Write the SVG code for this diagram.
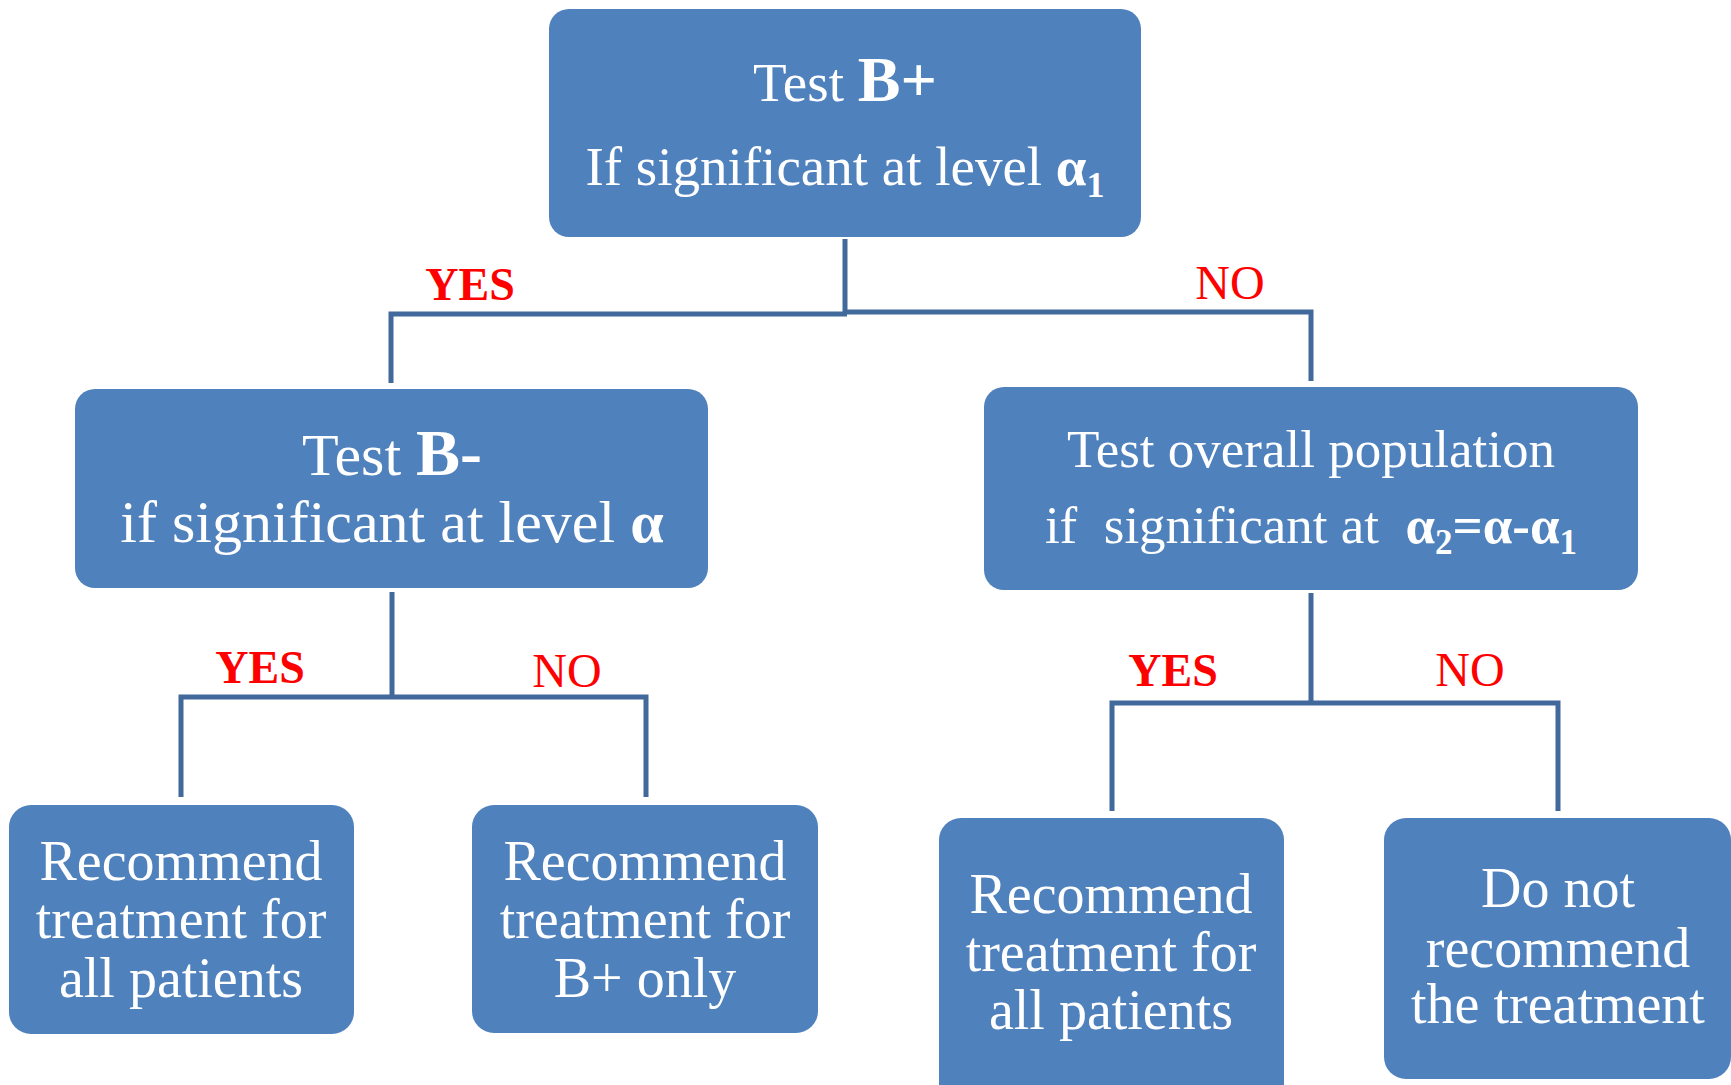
<svg xmlns="http://www.w3.org/2000/svg" width="1731" height="1085" viewBox="0 0 1731 1085">
  <style>
    .box { fill: #4f81bd; }
    .txt { font-family: "Liberation Serif", "Times New Roman", serif; fill: #ffffff; text-anchor: middle; }
    .b { font-weight: bold; }
    .lbl { font-family: "Liberation Serif", "Times New Roman", serif; fill: #ff0000; text-anchor: middle; }
    .conn { fill: none; stroke: #41699b; stroke-width: 5; stroke-linejoin: miter; }
  </style>
  <rect width="1731" height="1085" fill="#ffffff"/>

  <!-- connectors -->
  <g id="connectors">
    <path class="conn" d="M845 239 V314"/>
    <path class="conn" d="M391 383 V314 H847"/>
    <path class="conn" d="M845 312 H1311 V381"/>
    <path class="conn" d="M392 592 V697"/>
    <path class="conn" d="M181 797 V697 H646 V797"/>
    <path class="conn" d="M1311 593 V703"/>
    <path class="conn" d="M1112 811 V703 H1558 V811"/>
  </g>

  <!-- branch labels -->
  <g id="labels">
    <text class="lbl b" x="470" y="300" font-size="46">YES</text>
    <text class="lbl" x="1230" y="299" font-size="48">NO</text>
    <text class="lbl b" x="260" y="683" font-size="46">YES</text>
    <text class="lbl" x="567" y="687" font-size="48">NO</text>
    <text class="lbl b" x="1173" y="686" font-size="46">YES</text>
    <text class="lbl" x="1470" y="686" font-size="48">NO</text>
  </g>

  <!-- root test -->
  <g id="test-bplus">
    <rect class="box" x="549" y="9" width="592" height="228" rx="20"/>
    <text class="txt" x="845" y="101" font-size="55">Test <tspan class="b" font-size="64">B+</tspan></text>
    <text class="txt" x="845" y="185" font-size="55">If significant at level <tspan class="b">α</tspan><tspan class="b" font-size="36" dy="12">1</tspan></text>
  </g>

  <!-- second-stage tests -->
  <g id="test-bminus">
    <rect class="box" x="75" y="389" width="633" height="199" rx="20"/>
    <text class="txt" x="392" y="475" font-size="60">Test <tspan class="b" font-size="66">B-</tspan></text>
    <text class="txt" x="392" y="542" font-size="60">if significant at level <tspan class="b">α</tspan></text>
  </g>

  <g id="test-overall">
    <rect class="box" x="984" y="387" width="654" height="203" rx="20"/>
    <text class="txt" x="1311" y="467" font-size="53">Test overall population</text>
    <text class="txt" x="1311" y="543" font-size="53" xml:space="preserve">if  significant at  <tspan class="b">α</tspan><tspan class="b" font-size="35" dy="11">2</tspan><tspan class="b" dy="-11">=α-α</tspan><tspan class="b" font-size="35" dy="11">1</tspan></text>
  </g>

  <!-- outcomes -->
  <g id="all-patients-1">
    <rect class="box" x="9" y="805" width="345" height="229" rx="22"/>
    <text class="txt" x="181" y="880" font-size="56">Recommend</text>
    <text class="txt" x="181" y="938" font-size="56">treatment for</text>
    <text class="txt" x="181" y="997" font-size="56">all patients</text>
  </g>

  <g id="bplus-only">
    <rect class="box" x="472" y="805" width="346" height="228" rx="22"/>
    <text class="txt" x="645" y="880" font-size="56">Recommend</text>
    <text class="txt" x="645" y="938" font-size="56">treatment for</text>
    <text class="txt" x="645" y="997" font-size="56">B+ only</text>
  </g>

  <g id="all-patients-2">
    <rect class="box" x="939" y="818" width="345" height="290" rx="22"/>
    <text class="txt" x="1111" y="913" font-size="56">Recommend</text>
    <text class="txt" x="1111" y="971" font-size="56">treatment for</text>
    <text class="txt" x="1111" y="1029" font-size="56">all patients</text>
  </g>

  <g id="no-treatment">
    <rect class="box" x="1384" y="818" width="347" height="261" rx="22"/>
    <text class="txt" x="1558" y="907" font-size="56">Do not</text>
    <text class="txt" x="1558" y="967" font-size="56">recommend</text>
    <text class="txt" x="1558" y="1023" font-size="56">the treatment</text>
  </g>
</svg>
